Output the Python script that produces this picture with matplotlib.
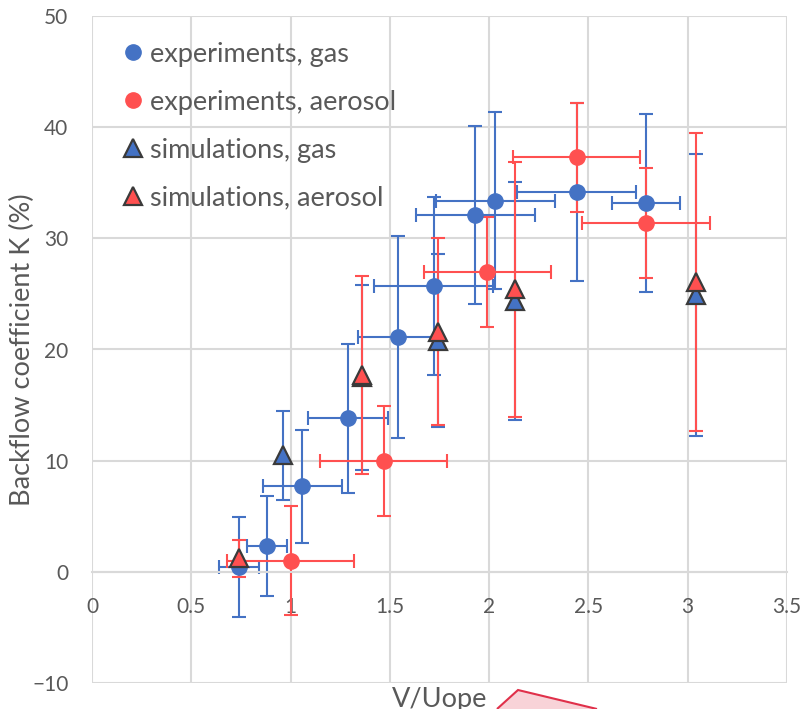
import matplotlib.pyplot as plt
from matplotlib.patches import Polygon

plt.rcParams['font.family'] = ['Lato', 'DejaVu Sans']

# experiments, gas
gas_x = [0.74, 0.88, 1.06, 1.29, 1.54, 1.72, 1.93, 2.03, 2.44, 2.79]
gas_y = [0.4, 2.3, 7.7, 13.8, 21.1, 25.7, 32.1, 33.4, 34.2, 33.2]
gas_xerr = [0.1, 0.1, 0.2, 0.2, 0.2, 0.3, 0.3, 0.3, 0.3, 0.17]
gas_yerr = [4.5, 4.5, 5.1, 6.7, 9.1, 8.0, 8.0, 8.0, 8.0, 8.0]

# experiments, aerosol
aer_x = [1.0, 1.47, 1.99, 2.44, 2.79]
aer_y = [1.0, 10.0, 27.0, 37.3, 31.4]
aer_xerr = [0.32, 0.32, 0.32, 0.32, 0.32]
aer_yerr = [4.9, 4.95, 4.95, 4.9, 4.95]

# simulations
sim_gas_x = [0.96, 1.36, 1.74, 2.13, 3.04]
sim_gas_y = [10.5, 17.5, 20.8, 24.4, 24.9]
sim_gas_yerr = [4.0, 8.3, 7.8, 10.7, 12.7]

sim_aer_x = [0.74, 1.36, 1.74, 2.13, 3.04]
sim_aer_y = [1.2, 17.7, 21.6, 25.4, 26.1]
sim_aer_yerr = [1.7, 8.9, 8.4, 11.5, 13.4]

blue = '#4472C4'
red = '#FF5050'
edge = '#3A3A3A'
txt = '#595959'
grid_c = '#D9D9D9'

fig = plt.figure(figsize=(8.06, 7.09), dpi=100)
ax = fig.add_axes([92/806, 1 - 683/709, (787 - 92)/806, (683 - 16)/709])

eb = dict(fmt='none', elinewidth=1.5, capsize=5, capthick=1.5, zorder=2)
ax.errorbar(gas_x, gas_y, xerr=gas_xerr, yerr=gas_yerr, ecolor=blue, **eb)
ax.errorbar(aer_x, aer_y, xerr=aer_xerr, yerr=aer_yerr, ecolor=red, **eb)
ax.errorbar(sim_gas_x, sim_gas_y, yerr=sim_gas_yerr, ecolor=blue, **eb)
ax.errorbar(sim_aer_x, sim_aer_y, yerr=sim_aer_yerr, ecolor=red, **eb)

ax.plot(gas_x, gas_y, 'o', color=blue, markersize=11, zorder=3,
        label='experiments, gas')
ax.plot(aer_x, aer_y, 'o', color=red, markersize=11, zorder=3,
        label='experiments, aerosol')
ax.plot(sim_gas_x, sim_gas_y, '^', color=blue, markeredgecolor=edge,
        markeredgewidth=1.6, markersize=12.5, zorder=4, label='simulations, gas')
ax.plot(sim_aer_x, sim_aer_y, '^', color=red, markeredgecolor=edge,
        markeredgewidth=1.6, markersize=12.5, zorder=4, label='simulations, aerosol')

ax.set_xlim(0, 3.5)
ax.set_ylim(-10, 50)
ax.set_xticks([0, 0.5, 1, 1.5, 2, 2.5, 3, 3.5])
ax.set_xticklabels(['0', '0.5', '1', '1.5', '2', '2.5', '3', '3.5'])
ax.set_yticks([-10, 0, 10, 20, 30, 40, 50])
ax.grid(True, color=grid_c, linewidth=1.5, zorder=0)
ax.set_axisbelow(True)

for s in ['top', 'right', 'left']:
    ax.spines[s].set_visible(False)
ax.spines['bottom'].set_position(('data', 0))
ax.spines['bottom'].set_color(grid_c)
ax.spines['bottom'].set_linewidth(1.5)
ax.tick_params(axis='x', length=0, pad=18, labelsize=15, labelcolor=txt)
ax.tick_params(axis='y', length=0, pad=17, labelsize=15, labelcolor=txt)

ax.text(0.5, -0.006, 'V/Uope', transform=ax.transAxes, ha='center', va='top',
        fontsize=19.5, color=txt)
fig.text(22/806, 1 - 350/709, 'Backflow coefficient K (%)', rotation=90,
         ha='center', va='center', fontsize=19.5, color=txt)

ax.legend(loc='upper left', bbox_to_anchor=(0.0, 0.998), frameon=False,
          fontsize=19.5, labelcolor=txt, handletextpad=0.05, labelspacing=0.85,
          markerscale=1.0, handlelength=1.2)

# stray shape at the bottom edge of the crop
fig.patches.append(Polygon([[497/806, 0], [518/806, 1 - 690/709], [597/806, 0]],
                           closed=False, transform=fig.transFigure,
                           facecolor='#F8D3D8', edgecolor='#E0304A', linewidth=1.5))

fig.savefig('out.png', dpi=100)
